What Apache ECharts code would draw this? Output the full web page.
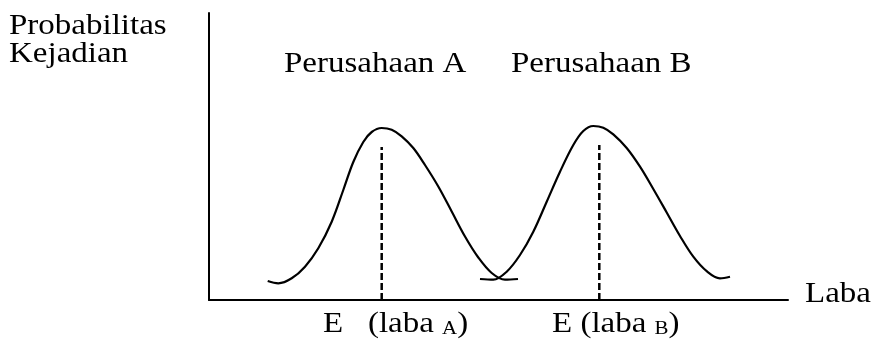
<!DOCTYPE html>
<html>
<head>
<meta charset="utf-8">
<script src="https://cdn.jsdelivr.net/npm/echarts@6/dist/echarts.min.js"></script>
<style>
html,body{margin:0;padding:0;background:#fff;}
#chart{width:878px;height:345px;}
</style>
</head>
<body>
<div id="chart"></div>
<script>
// sumbu: laba (x) dan probabilitas (y), satuan bebas
var xMax = 579;
var yMax = 287;
// kurva perusahaan A
var curveA = [[58.7,19],[69.3,16.7],[82.7,21.7],[96,33.3],[109.3,51.7],[122.7,78.3],[134.3,110],
	[144.3,138],[154.3,158],[162.7,168],[172.7,172],[182.7,170.3],[192.7,163.7],[204.3,152],[216,135],
	[229.3,113.5],[242.7,88.5],[256,63.5],[269.3,42.5],[282.7,27],[296,20.3],[309,21]];
// kurva perusahaan B
var curveB = [[271,21],[284.3,20.3],[297.7,28.3],[311,45],[324.3,68.3],[337.7,98.3],[351,128.3],
	[364.3,155],[374.3,169],[384.3,174],[394.3,172.3],[404.3,165.6],[417.7,152],[431,133.3],[444.3,111],
	[457.7,87.5],[471,64],[484.3,43.3],[497.7,28.8],[511,21.7],[521,23.3]];
// garis putus-putus E(laba)
var meanA = [[172.7,0],[172.7,153]];
var meanB = [[390.3,0],[390.3,155]];
var seriesNames = ['Perusahaan A','Perusahaan B'];

var font = '"Liberation Serif","Times New Roman",serif';
var mycharts = echarts.init(document.getElementById('chart'));
var curveStyle = {color:'#000',width:2.2};
var dashStyle = {color:'#000',width:2.5,type:[7,3]};
function label(x, y, text, rich) {
	var st = {text:text,font:'30px '+font,fill:'#000',lineHeight:28};
	if (rich) st.rich = rich;
	return {type:'text',left:x,top:y,scaleX:1.1,style:st};
}
var sub = {s:{font:'19px '+font,fill:'#000',padding:[11,0,0,0]}};
var option = {
	backgroundColor:'#fff',
	animation:false,
	grid:{left:209,top:13,right:90,bottom:45},
	xAxis:{
		type:'value',min:0,max:xMax,
		axisLine:{show:true,lineStyle:{color:'#000',width:2}},
		axisTick:{show:false},axisLabel:{show:false},splitLine:{show:false}
	},
	yAxis:{
		type:'value',min:0,max:yMax,
		axisLine:{show:true,lineStyle:{color:'#000',width:2}},
		axisTick:{show:false},axisLabel:{show:false},splitLine:{show:false}
	},
	series:[
		{name:seriesNames[0],type:'line',data:curveA,smooth:0.35,symbol:'none',lineStyle:curveStyle},
		{name:seriesNames[1],type:'line',data:curveB,smooth:0.35,symbol:'none',lineStyle:curveStyle},
		{name:'E A',type:'line',data:meanA,symbol:'none',lineStyle:dashStyle},
		{name:'E B',type:'line',data:meanB,symbol:'none',lineStyle:dashStyle}
	],
	graphic:[
		label(9, 11, 'Probabilitas\nKejadian'),
		label(284, 49, seriesNames[0]),
		label(511, 49, seriesNames[1]),
		label(805, 279, 'Laba'),
		label(323, 309, 'E   (laba {s|A})', sub),
		label(552, 309, 'E (laba {s|B})', sub)
	]
};
mycharts.setOption(option);
</script>
</body>
</html>
